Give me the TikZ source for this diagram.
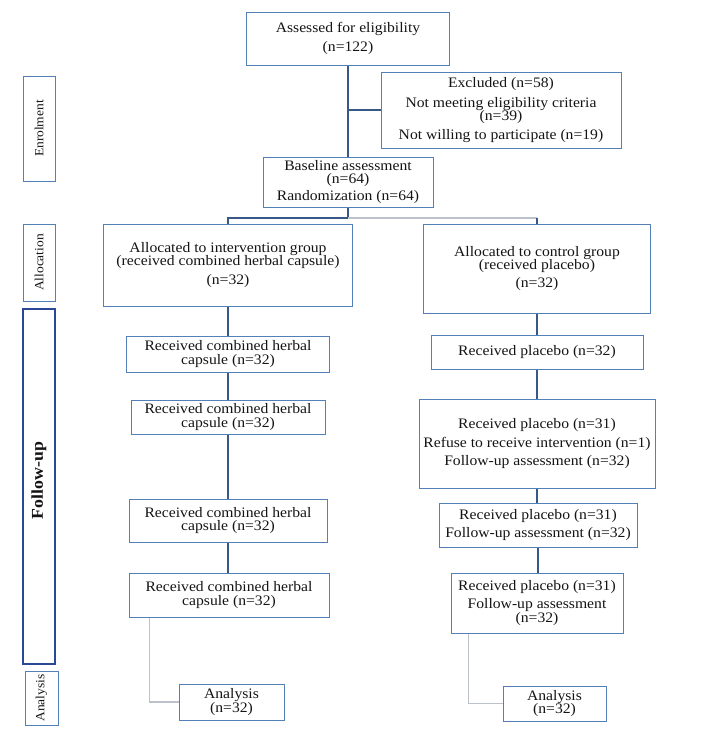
\documentclass[tikz,border=0pt]{standalone}
\usepackage{fontspec}
\setmainfont{Liberation Serif}[FakeStretch=1.08]
\definecolor{boxblue}{RGB}{84,128,184}
\definecolor{linkblue}{RGB}{56,88,136}
\definecolor{lightlink}{RGB}{188,194,204}
\definecolor{sideblue}{RGB}{42,72,150}
\definecolor{txt}{RGB}{20,20,20}
\tikzset{
  box/.style={draw=boxblue, line width=1pt, align=center, inner sep=0pt, text=txt,
    font=\fontsize{14.5}{13.2}\selectfont},
  side/.style={draw=boxblue, line width=1pt, rotate=90, inner sep=0pt, text=txt,
    font=\fontsize{12.5}{13}\selectfont},
  conn/.style={draw=linkblue, line width=1.1pt},
  connlight/.style={draw=lightlink, line width=1.2pt},
}
\begin{document}
\begin{tikzpicture}[x=1pt,y=-1pt]
\useasboundingbox (0,0) rectangle (720,734);

% side labels
\node[side, minimum width=105pt, minimum height=32pt] (enrol) at (39,128.5) {Enrolment};
\node[side, minimum width=77pt, minimum height=32pt] (alloc) at (39,262.5) {Allocation};
\node[side, draw=sideblue, line width=1.6pt, minimum width=355pt, minimum height=32pt,
      font=\fontsize{16.5}{17}\selectfont\bfseries] (follow) at (39,486.5) {\hspace{12pt}Follow-up};
\node[side, minimum width=54pt, minimum height=33pt] (anal) at (41.5,698) {Analysis};

% enrolment
\node[box, minimum width=203pt, minimum height=53pt] (assess) at (348,38.5)
  {Assessed for eligibility\\[5pt](n=122)};
\node[box, minimum width=240pt, minimum height=76pt] (excl) at (501,110)
  {Excluded (n=58)\\[6pt]Not meeting eligibility criteria\\[0.5pt](n=39)\\[5pt]Not willing to participate (n=19)};
\node[box, minimum width=170pt, minimum height=50pt] (base) at (348,182)
  {Baseline assessment\\[0pt](n=64)\\[3pt]Randomization (n=64)};

% allocation
\node[box, minimum width=249pt, minimum height=82pt] (allocI) at (228,265)
  {Allocated to intervention group\\[0pt](received combined herbal capsule)\\[5pt](n=32)};
\node[box, minimum width=227pt, minimum height=89pt] (allocC) at (537,268.5)
  {Allocated to control group\\[0pt](received placebo)\\[5pt](n=32)};

% intervention column
\node[box, minimum width=203pt, minimum height=36pt] (r1) at (228,354)
  {Received combined herbal\\capsule (n=32)};
\node[box, minimum width=194pt, minimum height=34pt] (r2) at (228,417)
  {Received combined herbal\\capsule (n=32)};
\node[box, minimum width=198pt, minimum height=43pt] (r3) at (228,520.5)
  {Received combined herbal\\capsule (n=32)};
\node[box, minimum width=200pt, minimum height=44pt] (r4) at (229,595)
  {Received combined herbal\\capsule (n=32)};
\node[box, minimum width=105pt, minimum height=36pt] (anaL) at (231.5,702)
  {Analysis\\(n=32)};

% control column
\node[box, minimum width=212pt, minimum height=34pt] (p1) at (537,352)
  {Received placebo (n=32)};
\node[box, minimum width=236pt, minimum height=89pt] (p2) at (537,443.5)
  {Received placebo (n=31)\\[5pt]Refuse to receive intervention (n=1)\\[5pt]Follow-up assessment (n=32)};
\node[box, minimum width=198pt, minimum height=44pt] (p3) at (538,525)
  {Received placebo (n=31)\\[5pt]Follow-up assessment (n=32)};
\node[box, minimum width=172pt, minimum height=60pt] (p4) at (537,603)
  {Received placebo (n=31)\\[5pt]Follow-up assessment\\(n=32)};
\node[box, minimum width=103pt, minimum height=35pt] (anaR) at (554.5,703.5)
  {Analysis\\(n=32)};

% connectors
\draw[conn] (assess.south) -- (assess.south |- base.north);
\draw[conn] (assess.south |- excl.west) -- (excl.west);
\coordinate (split) at (348,218);
\draw[conn] (base.south) -- (split) -| (allocI.north);
\draw[connlight] (split) -- (split -| allocC.north);
\draw[conn] (split -| allocC.north) -- (allocC.north);
\draw[conn] (allocI.south) -- (allocI.south |- r1.north);
\draw[conn] (r1.south) -- (r1.south |- r2.north);
\draw[conn] (r2.south) -- (r2.south |- r3.north);
\draw[conn] (r3.south) -- (r3.south |- r4.north);
\draw[connlight] ([xshift=21pt]r4.south west) |- (anaL.west);
\draw[conn] (allocC.south) -- (allocC.south |- p1.north);
\draw[conn] (p1.south) -- (p1.south |- p2.north);
\draw[conn] (p2.south) -- (p2.south |- p3.north);
\draw[conn] (p3.south) -- (p3.south |- p4.north);
\draw[connlight] ([xshift=18pt]p4.south west) |- (anaR.west);
\end{tikzpicture}
\end{document}
